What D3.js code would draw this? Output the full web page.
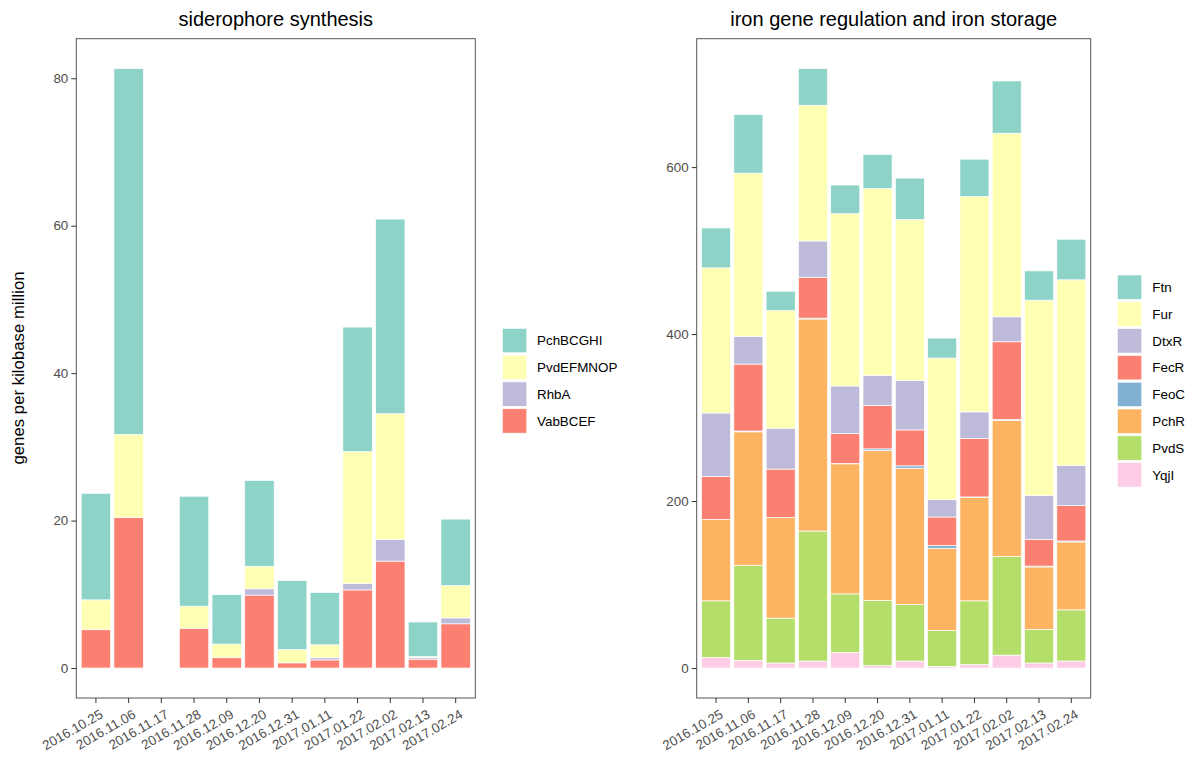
<!DOCTYPE html>
<html>
<head>
<meta charset="utf-8">
<script src="https://cdn.jsdelivr.net/npm/d3@7/dist/d3.min.js"></script>
<style>
  html, body { margin: 0; padding: 0; background: #fff; }
  svg { display: block; font-family: "Liberation Sans", Arial, Helvetica, sans-serif; }
</style>
</head>
<body>
<svg id="chart" width="1193" height="758"></svg>
<script>
// ---------- data ----------
const dates = ["2016.10.25","2016.11.06","2016.11.17","2016.11.28","2016.12.09","2016.12.20",
               "2016.12.31","2017.01.11","2017.01.22","2017.02.02","2017.02.13","2017.02.24"];

// siderophore synthesis (stack bottom -> top: VabBCEF, RhbA, PvdEFMNOP, PchBCGHI)
const leftSeries = ["PchBCGHI","PvdEFMNOP","RhbA","VabBCEF"];
const pchBCGHI  = [14.45, 49.6, 0, 14.9, 6.7, 11.65, 9.35, 7.1, 16.9, 26.4, 4.7, 9.0];
const pvdEFMNOP = [4.05, 11.3, 0, 3.0, 1.85, 3.05, 1.8, 1.75, 17.9, 17.05, 0.15, 4.4];
const rhbA      = [0, 0, 0, 0, 0, 0.85, 0, 0.3, 0.85, 2.95, 0.2, 0.8];
const vabBCEF   = [5.2, 20.4, 0, 5.4, 1.4, 9.9, 0.7, 1.1, 10.6, 14.5, 1.2, 6.0];
const leftTicks = [0, 20, 40, 60, 80];

// iron gene regulation and iron storage (stack bottom -> top: YqjI ... Ftn)
const rightSeries = ["Ftn","Fur","DtxR","FecR","FeoC","PchR","PvdS","YqjI"];
const ftn  = [47.8, 70.1, 23.1, 43.8, 34.3, 40.6, 49.4, 23.9, 44.6, 62.6, 35.1, 48.6];
const fur  = [173.8, 195.6, 141.0, 162.6, 206.4, 223.9, 193.2, 169.7, 258.1, 219.9, 233.8, 222.3];
const dtxR = [76.0, 33.1, 49.0, 43.4, 56.9, 35.9, 59.0, 20.7, 31.9, 29.9, 52.6, 48.2];
const fecR = [51.4, 80.2, 57.8, 49.0, 35.8, 52.2, 43.0, 34.3, 70.0, 93.1, 32.1, 42.3];
const feoC = [0, 1.0, 0, 1.0, 0.5, 2.0, 2.8, 3.2, 0.5, 1.0, 1.0, 1.2];
const pchR = [97.6, 159.8, 120.7, 254.0, 155.8, 179.6, 163.3, 98.4, 123.9, 163.2, 74.9, 81.3];
const pvdS = [67.8, 113.9, 53.8, 155.7, 70.1, 78.1, 67.7, 43.0, 76.5, 118.0, 40.2, 61.3];
const yqjI = [12.7, 9.2, 6.0, 8.4, 18.7, 2.8, 8.4, 2.0, 4.0, 15.5, 6.0, 8.4];
const rightTicks = [0, 200, 400, 600];

const set3 = ["#8DD3C7","#FFFFB3","#BEBADA","#FB8072","#80B1D3","#FDB462","#B3DE69","#FCCDE5"];

// ---------- build tables ----------
const leftRows = dates.map((d, i) => ({date: d, PchBCGHI: pchBCGHI[i], PvdEFMNOP: pvdEFMNOP[i], RhbA: rhbA[i], VabBCEF: vabBCEF[i]}));
const rightRows = dates.map((d, i) => ({date: d, Ftn: ftn[i], Fur: fur[i], DtxR: dtxR[i], FecR: fecR[i], FeoC: feoC[i], PchR: pchR[i], PvdS: pvdS[i], YqjI: yqjI[i]}));

const svg = d3.select("#chart");
const axisCol = "#4d4d4d";
const borderCol = "#555555";
const tickFont = 13.4;

function panel(opts) {
  const {x0, x1, y0, y1, rows, series, colors, ticks, title, legendX, legendY, legendTextX} = opts;
  const keys = series.slice().reverse(); // bottom -> top
  const stack = d3.stack().keys(keys)(rows);
  const maxV = d3.max(rows, r => d3.sum(keys, k => r[k]));
  const pad = maxV * 0.05;

  // discrete x with ggplot-style 0.6 expansion
  const n = dates.length;
  const unit = (x1 - x0) / (n - 1 + 1.2);
  const x = d3.scaleBand().domain(dates)
    .range([x0 + 0.6 * unit - unit / 2, x1 - 0.6 * unit + unit / 2])
    .paddingInner(0.1).paddingOuter(0.05);
  const y = d3.scaleLinear().domain([-pad, maxV + pad]).range([y1, y0]);

  const g = svg.append("g");
  const color = d3.scaleOrdinal().domain(series).range(colors);

  g.selectAll("g.layer").data(stack).join("g")
    .attr("fill", d => color(d.key))
    .selectAll("rect").data(d => d).join("rect")
    .attr("x", d => x(d.data.date))
    .attr("width", x.bandwidth())
    .attr("y", d => y(d[1]))
    .attr("height", d => Math.max(0, y(d[0]) - y(d[1])))
    .attr("stroke", "#ffffff")
    .attr("stroke-width", 0.7);

  // border
  g.append("rect").attr("x", x0).attr("y", y0).attr("width", x1 - x0).attr("height", y1 - y0)
    .attr("fill", "none").attr("stroke", borderCol).attr("stroke-width", 1);

  // y axis
  const ya = d3.axisLeft(y).tickValues(ticks).tickSize(5).tickPadding(3).tickFormat(d3.format("d"));
  const yg = g.append("g").attr("transform", `translate(${x0},0)`).call(ya);
  yg.select(".domain").remove();
  yg.selectAll(".tick line").attr("stroke", "#333333");
  yg.selectAll(".tick text").attr("fill", axisCol).attr("font-size", tickFont).attr("font-family", "Liberation Sans, Arial, sans-serif");

  // x axis
  const xa = d3.axisBottom(x).tickSize(5).tickPadding(2);
  const xg = g.append("g").attr("transform", `translate(0,${y1})`).call(xa);
  xg.select(".domain").remove();
  xg.selectAll(".tick line").attr("stroke", "#333333");
  xg.selectAll(".tick text")
    .attr("fill", axisCol).attr("font-size", tickFont).attr("font-family", "Liberation Sans, Arial, sans-serif")
    .attr("text-anchor", "end")
    .attr("dy", null).attr("y", null)
    .attr("transform", "translate(8,19) rotate(-30)");

  // title
  svg.append("text").attr("x", (x0 + x1) / 2).attr("y", 26)
    .attr("text-anchor", "middle").attr("font-size", 20).attr("fill", "#000")
    .text(title);

  // legend
  const lg = svg.append("g");
  const pitch = 26.8;
  series.forEach((s, i) => {
    lg.append("rect").attr("x", legendX).attr("y", legendY + i * pitch)
      .attr("width", 24.5).attr("height", 24.5)
      .attr("fill", color(s)).attr("stroke", "#ffffff").attr("stroke-width", 0.7);
    lg.append("text").attr("x", legendTextX).attr("y", legendY + i * pitch + 12.25)
      .attr("dy", "0.35em").attr("font-size", 13.4).attr("fill", "#000").text(s);
  });
}

panel({x0: 76.3, x1: 475.3, y0: 38.7, y1: 698, rows: leftRows, series: leftSeries,
       colors: [set3[0], set3[1], set3[2], set3[3]], ticks: leftTicks, title: "siderophore synthesis",
       legendX: 502.3, legendY: 328.3, legendTextX: 537});

panel({x0: 696.7, x1: 1090.7, y0: 38.7, y1: 698, rows: rightRows, series: rightSeries,
       colors: set3, ticks: rightTicks, title: "iron gene regulation and iron storage",
       legendX: 1117.3, legendY: 275, legendTextX: 1152.3});

// y axis title
svg.append("text").attr("transform", "translate(24,368) rotate(-90)")
  .attr("text-anchor", "middle").attr("font-size", 16.8).attr("fill", "#000")
  .text("genes per kilobase million");
</script>
</body>
</html>
